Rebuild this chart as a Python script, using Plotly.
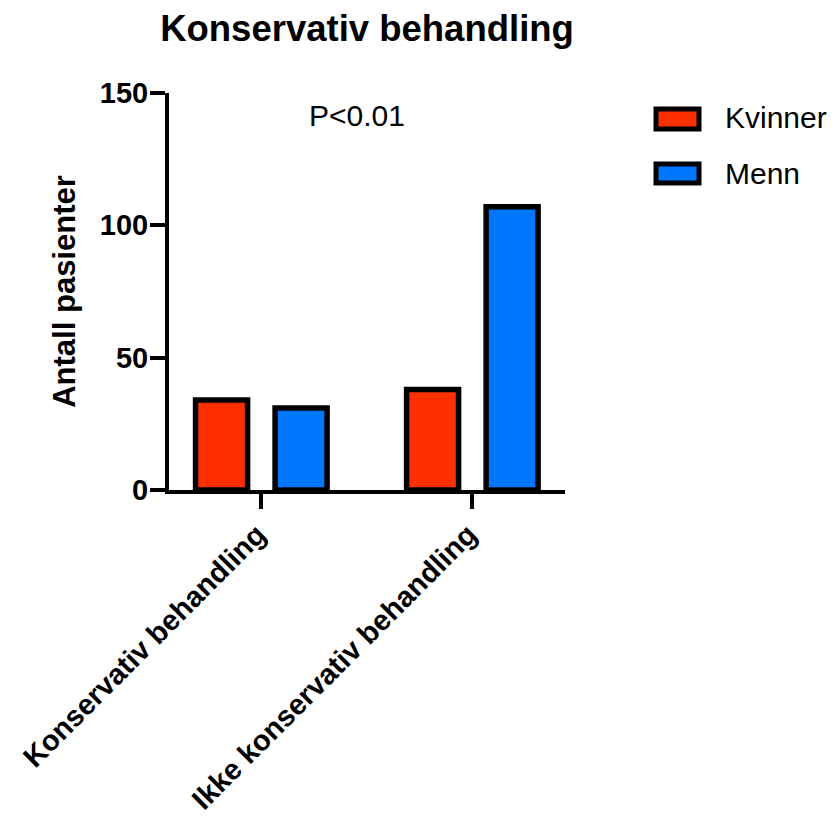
import plotly.graph_objects as go

# Data
categories = ["Konservativ behandling", "Ikke konservativ behandling"]
series_names = ["Kvinner", "Menn"]
kvinner = [34, 38]
menn = [31, 107]
y_ticks = [0, 50, 100, 150]

colors = {"Kvinner": "#FF3000", "Menn": "#0077FF"}
FONT = "Liberation Sans, Arial, Helvetica, sans-serif"

W, H = 836, 816
L, R, T, B = 169, 271, 93, 326
PW, PH = W - L - R, H - T - B


def px_x(x):
    return (x - L) / PW


def px_y(y):
    return (H - B - y) / PH


fig = go.Figure()
for name, vals in zip(series_names, [kvinner, menn]):
    fig.add_trace(go.Bar(
        x=categories, y=vals, name=name,
        marker=dict(color=colors[name], line=dict(color="black", width=5.5)),
        showlegend=False,
    ))

fig.update_layout(
    width=W, height=H,
    margin=dict(l=L, r=R, t=T, b=B, pad=0),
    paper_bgcolor="white", plot_bgcolor="white",
    barmode="group", bargap=0.2464, bargroupgap=0.346,
    font=dict(family=FONT, color="black"),
    title=dict(
        text="<b>Konservativ behandling</b>",
        font=dict(size=36.5, family=FONT, color="black"),
        x=0.5, xref="paper", xanchor="center",
        y=1 - 28 / H, yref="container", yanchor="middle",
    ),
    xaxis=dict(
        type="category", range=[-0.4375, 1.439], automargin=False,
        showline=True, linecolor="black", linewidth=4,
        ticks="outside", ticklen=15, tickwidth=4, tickcolor="black",
        tickangle=-45, showgrid=False, zeroline=False,
        ticklabelstandoff=-3, ticklabelshift=-4,
        tickfont=dict(size=29, family=FONT, color="black", weight="bold"),
    ),
    yaxis=dict(
        range=[0, 150], tickvals=y_ticks, automargin=False,
        showline=True, linecolor="black", linewidth=4,
        ticks="outside", ticklen=15, tickwidth=4, tickcolor="black",
        showgrid=False, zeroline=False, ticklabelstandoff=-4,
        tickfont=dict(size=29, family=FONT, color="black", weight="bold"),
        title=dict(text="<b>Antall pasienter</b>", standoff=16,
                   font=dict(size=31, family=FONT, color="black")),
    ),
)

# P-value note
fig.add_annotation(
    text="P<0.01", x=px_x(356.5), y=px_y(115.5), xref="paper", yref="paper",
    xanchor="center", yanchor="middle", showarrow=False,
    font=dict(size=30, family=FONT, color="black"),
)

# Legend drawn with framed swatches
legend_rows = [(109, 129, 118), (164, 183, 173)]
for name, (y0, y1, yt) in zip(series_names, legend_rows):
    fig.add_shape(
        type="rect", xref="paper", yref="paper",
        x0=px_x(656), x1=px_x(699), y0=px_y(y1), y1=px_y(y0),
        fillcolor=colors[name], line=dict(color="black", width=5),
    )
    fig.add_annotation(
        text=name, x=px_x(723), y=px_y(yt), xref="paper", yref="paper",
        xanchor="left", yanchor="middle", showarrow=False,
        font=dict(size=30, family=FONT, color="black"),
    )

fig.write_html("out.html")
